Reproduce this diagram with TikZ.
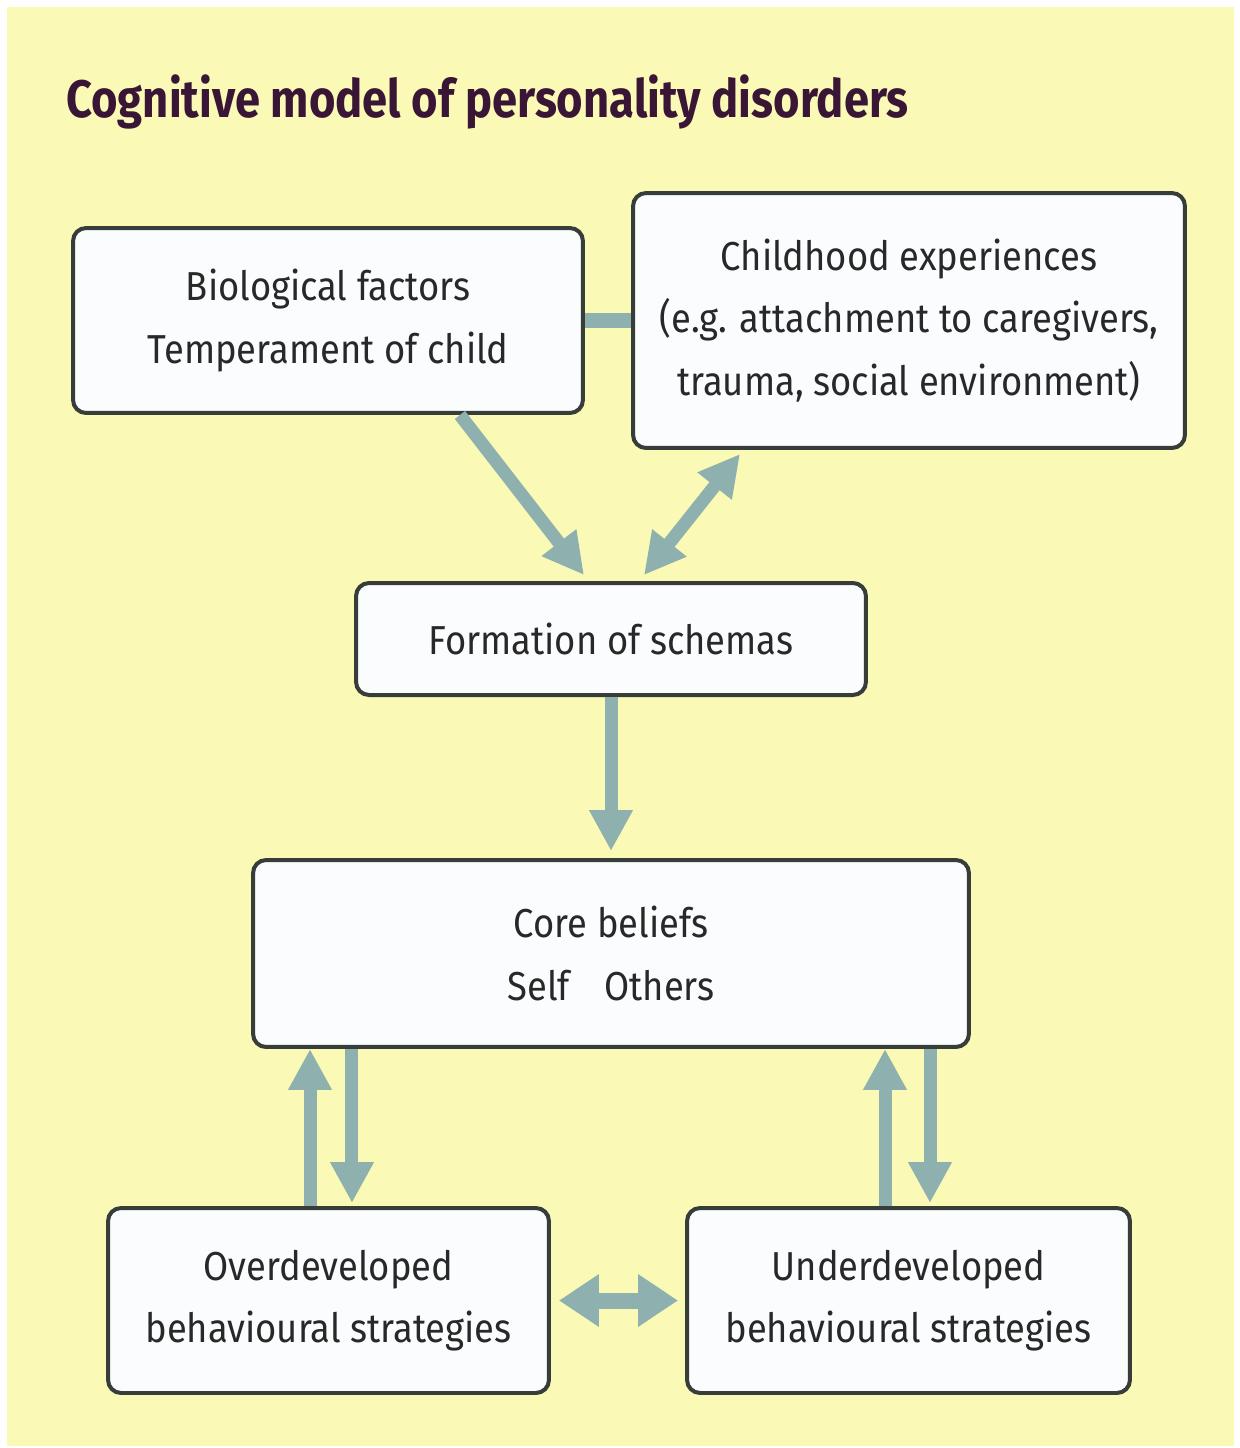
\documentclass[tikz,border=0pt]{standalone}
\usepackage{fontspec}
\setmainfont[FakeStretch=0.9]{Fira Sans}
\newfontfamily\titlefont[FakeStretch=0.86]{Fira Sans}
\usetikzlibrary{arrows.meta,calc}
\definecolor{bgyellow}{RGB}{250,249,182}
\definecolor{titlepurple}{RGB}{58,22,54}
\definecolor{boxline}{RGB}{55,62,58}
\definecolor{boxfill}{RGB}{250,252,253}
\definecolor{arrowteal}{RGB}{142,177,175}
\definecolor{textgray}{RGB}{40,40,40}
\tikzset{
	box/.style={draw=boxline, fill=boxfill, line width=0.08cm, rounded corners=0.26cm,
		align=center, text=textgray, font=\fontsize{23}{35.5}\selectfont, inner sep=0pt},
	flow/.style={draw=arrowteal, line width=0.26cm,
		-{Triangle[width=0.82cm, length=0.82cm]}},
	twoway/.style={draw=arrowteal, line width=0.26cm,
		{Triangle[width=0.82cm, length=0.82cm]}-{Triangle[width=0.82cm, length=0.82cm]}},
	link/.style={draw=arrowteal, line width=0.3cm}
}

\begin{document}
\begin{tikzpicture}[x=0.02cm, y=-0.02cm]
			%%%%% START %%%%%
			
			\useasboundingbox (0, 0) rectangle (1240, 1448);
			\fill[bgyellow] (7, 7) rectangle (1234, 1446);
			
			\node[anchor=base west, text=titlepurple, font=\titlefont\bfseries\fontsize{30}{36}\selectfont, inner sep=0pt]
				(title) at (66, 117) {Cognitive model of personality disorders};
			
			\node[box, minimum width=10.2cm, minimum height=3.7cm] (bio) at (328, 320.5)
				{Biological factors\\Temperament of child};
			\node[box, minimum width=11.04cm, minimum height=5.1cm] (child) at (909, 320.5)
				{Childhood experiences\\(e.g. attachment to caregivers,\\trauma, social environment)};
			\node[box, minimum width=10.2cm, minimum height=2.24cm] (schemas) at (611, 639)
				{Formation of schemas};
			\node[box, minimum width=14.32cm, minimum height=3.74cm] (core) at (611, 953.5)
				{Core beliefs\\Self\hspace{0.85em}Others};
			\node[box, minimum width=8.82cm, minimum height=3.7cm] (over) at (328.5, 1300.5)
				{Overdeveloped\\behavioural strategies};
			\node[box, minimum width=8.86cm, minimum height=3.7cm] (under) at (908.5, 1300.5)
				{Underdeveloped\\behavioural strategies};
			
			% links between the boxes
			\draw[link] (bio.east) -- (child.west);
			\draw[flow] ([xshift=2.64cm]bio.south) -- ([xshift=-0.54cm, yshift=0.12cm]schemas.north);
			\draw[twoway] ([xshift=-3.38cm, yshift=-0.08cm]child.south) -- ([xshift=0.66cm, yshift=0.12cm]schemas.north);
			\draw[flow] (schemas.south) -- ([yshift=0.14cm]core.north);
			
			\draw[flow] ([xshift=-0.37cm]over.north) -- ([xshift=-0.37cm]over.north |- core.south);
			\draw[flow] ([xshift=0.47cm]over.north |- core.south) -- ([xshift=0.47cm, yshift=0.06cm]over.north);
			\draw[flow] ([xshift=-0.47cm]under.north) -- ([xshift=-0.47cm]under.north |- core.south);
			\draw[flow] ([xshift=0.43cm]under.north |- core.south) -- ([xshift=0.43cm, yshift=0.06cm]under.north);
			
			\draw[twoway, line width=0.32cm, {Triangle[width=1cm, length=0.8cm]}-{Triangle[width=1cm, length=0.8cm]}]
				([xshift=0.16cm]over.east) -- ([xshift=-0.14cm]under.west);
			
			%%%%% END %%%%%
\end{tikzpicture}
\end{document}
